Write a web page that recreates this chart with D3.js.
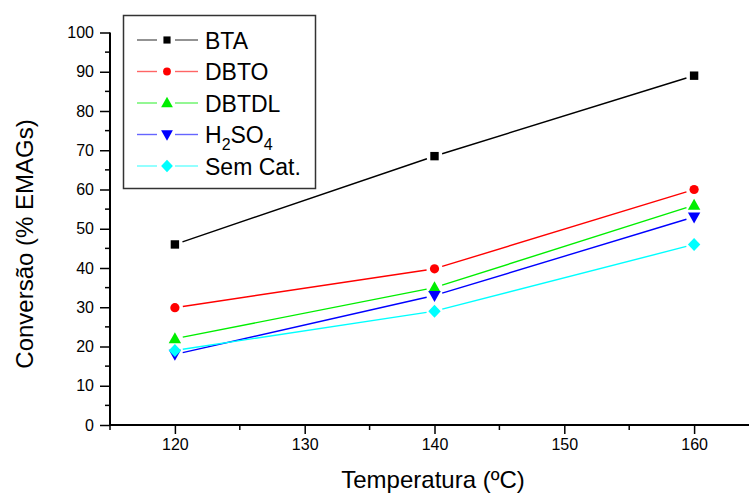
<!DOCTYPE html>
<html><head><meta charset="utf-8">
<script src="https://cdn.jsdelivr.net/npm/d3@7"></script>
<style>body{margin:0;background:#fff}svg{display:block;font-family:"Liberation Sans",Arial,sans-serif}</style>
</head><body><svg id="c" width="749" height="494"></svg>
<script>
const temps = [120, 140, 160];
const seriesNames = ["BTA", "DBTO", "DBTDL", "H2SO4", "Sem Cat."];
const bta = [46, 68.5, 89];
const dbto = [29.9, 39.8, 60];
const dbtdl = [22, 35, 56];
const h2so4 = [18, 33, 53];
const semCat = [19, 29, 46];
const colors = ["#000000", "#ff0000", "#00ee00", "#0000ff", "#00ffff"];
const symbols = ["square", "circle", "triangle", "triangleDown", "diamond"];
const xTicks = [120, 130, 140, 150, 160];
const yTicks = [0, 10, 20, 30, 40, 50, 60, 70, 80, 90, 100];

const values = [bta, dbto, dbtdl, h2so4, semCat];
const svg = d3.select("#c");
const x = d3.scaleLinear().domain([115, 165]).range([110, 759]);
const y = d3.scaleLinear().domain([0, 100]).range([425, 32.5]);

function marker(g, type, cx, cy, color, s) {
  s = s || 1;
  if (type === "square") g.append("rect").attr("x", cx-4.2*s).attr("y", cy-4.2*s).attr("width", 8.4*s).attr("height", 8.4*s).attr("fill", color);
  else if (type === "circle") g.append("circle").attr("cx", cx).attr("cy", cy).attr("r", 4.6*s).attr("fill", color);
  else if (type === "triangle") g.append("path").attr("d", `M${cx},${cy-6.5*s}L${cx+6.2*s},${cy+4.5*s}L${cx-6.2*s},${cy+4.5*s}Z`).attr("fill", color);
  else if (type === "triangleDown") g.append("path").attr("d", `M${cx},${cy+6.5*s}L${cx+6.2*s},${cy-4.5*s}L${cx-6.2*s},${cy-4.5*s}Z`).attr("fill", color);
  else if (type === "diamond") g.append("path").attr("d", `M${cx},${cy-6.5*s}L${cx+6.2*s},${cy}L${cx},${cy+6.5*s}L${cx-6.2*s},${cy}Z`).attr("fill", color);
}

// axes
const xAxis = d3.axisBottom(x).tickValues(xTicks).tickSize(9).tickPadding(5).tickFormat(d3.format("d"));
const gx = svg.append("g").attr("transform", "translate(0,425)").call(xAxis);
gx.select(".domain").attr("stroke-width", 2).attr("d", "M109,0H749");
gx.selectAll(".tick line").attr("stroke-width", 1.5);
gx.selectAll("text").attr("font-size", 16).attr("fill", "#000");
const xMinor = [115, 125, 135, 145, 155, 165];
gx.selectAll(".minor").data(xMinor).enter().append("line").attr("x1", d => x(d)).attr("x2", d => x(d)).attr("y1", 0).attr("y2", 5).attr("stroke", "#000").attr("stroke-width", 1.5);

const yAxis = d3.axisLeft(y).tickValues(yTicks).tickSize(10).tickPadding(6);
const gy = svg.append("g").attr("transform", "translate(110,0)").call(yAxis);
gy.select(".domain").attr("stroke-width", 2).attr("d", "M0,426V32.5");
gy.selectAll(".tick line").attr("stroke-width", 1.5);
gy.selectAll("text").attr("font-size", 16).attr("fill", "#000");
const yMinor = d3.range(5, 100, 10);
gy.selectAll(".minor").data(yMinor).enter().append("line").attr("x1", 0).attr("x2", -5).attr("y1", d => y(d)).attr("y2", d => y(d)).attr("stroke", "#000").attr("stroke-width", 1.5);

svg.append("text").attr("x", 433).attr("y", 488).attr("text-anchor", "middle").attr("font-size", 24).text("Temperatura (ºC)");
svg.append("text").attr("transform", "translate(33,244) rotate(-90)").attr("text-anchor", "middle").attr("font-size", 24).text("Conversão (% EMAGs)");

// series
const gap = 8;
values.forEach((vals, i) => {
  const g = svg.append("g");
  const pts = temps.map((t, j) => [x(t), y(vals[j])]);
  for (let j = 0; j < pts.length - 1; j++) {
    const [x1, y1] = pts[j], [x2, y2] = pts[j+1];
    const dx = x2-x1, dy = y2-y1, L = Math.hypot(dx, dy);
    const ux = dx/L, uy = dy/L;
    g.append("line").attr("x1", x1+ux*gap).attr("y1", y1+uy*gap).attr("x2", x2-ux*gap).attr("y2", y2-uy*gap)
      .attr("stroke", colors[i]).attr("stroke-width", 1.4);
  }
  pts.forEach(p => marker(g, symbols[i], p[0], p[1], colors[i]));
});

// legend
const lg = svg.append("g");
lg.append("rect").attr("x", 123.5).attr("y", 15.5).attr("width", 192).attr("height", 173).attr("fill", "#fff").attr("stroke", "#333").attr("stroke-width", 1.5);
seriesNames.forEach((n, i) => {
  const cy = 40 + i * 31.5;
  lg.append("line").attr("x1", 137).attr("x2", 157).attr("y1", cy).attr("y2", cy).attr("stroke", colors[i]).attr("stroke-width", 1.4).attr("opacity", 0.6);
  lg.append("line").attr("x1", 175).attr("x2", 198).attr("y1", cy).attr("y2", cy).attr("stroke", colors[i]).attr("stroke-width", 1.4).attr("opacity", 0.6);
  marker(lg, symbols[i], 167, cy, colors[i], symbols[i] === "square" || symbols[i] === "circle" ? 0.85 : 0.95);
  const t = lg.append("text").attr("x", 205).attr("y", cy + 8.5).attr("font-size", 23);
  if (n === "H2SO4") {
    t.append("tspan").text("H");
    t.append("tspan").attr("font-size", 16).attr("dy", 7).text("2");
    t.append("tspan").attr("dy", -7).text("SO");
    t.append("tspan").attr("font-size", 16).attr("dy", 7).text("4");
  } else t.text(n);
});
</script></body></html>
